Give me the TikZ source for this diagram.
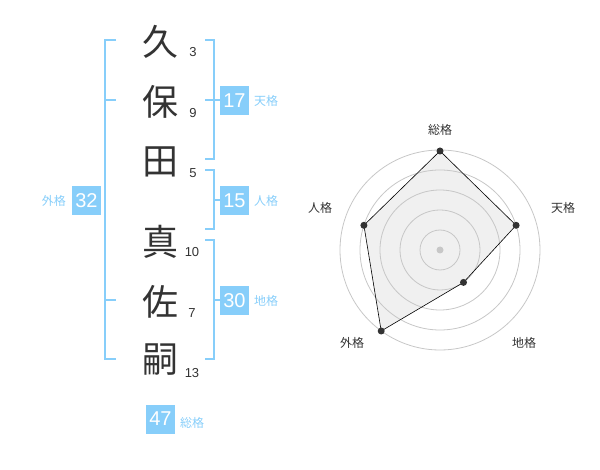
\documentclass[tikz,border=0pt]{standalone}
\usepackage{fontspec}
\setmainfont{Liberation Sans}
\newfontfamily\cjk{Noto Sans CJK JP}
\definecolor{sky}{HTML}{87CEFA}
\definecolor{ink}{HTML}{333333}
\begin{document}
\begin{tikzpicture}[x=1pt,y=-1pt,
  kanji/.style={font=\cjk\fontsize{36}{36}\selectfont, text=ink, inner sep=0},
  stroke/.style={font=\fontsize{13}{13}\selectfont, text=ink, inner sep=0},
  valbox/.style={fill=sky, text=white, minimum width=29pt, minimum height=29pt, inner sep=0, font=\fontsize{20}{20}\selectfont},
  kaku/.style={text=sky, font=\cjk\fontsize{12}{12}\selectfont, inner sep=0},
  brk/.style={draw=sky, line width=2pt},
  ring/.style={draw=black!22, line width=0.8pt},
  rlab/.style={text=ink, font=\cjk\fontsize{12}{12}\selectfont, inner sep=0},
  pt/.style={circle, fill=ink, inner sep=0, minimum size=7pt}]
\useasboundingbox (0,0) rectangle (600,470);
% characters
\node[kanji] (k1) at (160,42) {久};
\node[kanji] (k2) at (160,102) {保};
\node[kanji] (k3) at (160,162) {田};
\node[kanji] (k4) at (160,242) {真};
\node[kanji] (k5) at (160,302) {佐};
\node[kanji] (k6) at (160,360) {嗣};
\node[stroke] (n1) at (193,52) {3};
\node[stroke] (n2) at (193,113) {9};
\node[stroke] (n3) at (193,173) {5};
\node[stroke] (n4) at (192,252) {10};
\node[stroke] (n5) at (192,313) {7};
\node[stroke] (n6) at (192,373) {13};
% brackets
\draw[brk] (116,40) -- (105,40) -- (105,359) -- (116,359);
\draw[brk] (105,100) -- (116,100);
\draw[brk] (105,300) -- (116,300);
\draw[brk] (205,40) -- (214,40) -- (214,159) -- (205,159);
\draw[brk] (205,100) -- (220,100);
\draw[brk] (205,170) -- (214,170) -- (214,229) -- (205,229);
\draw[brk] (214,200) -- (220,200);
\draw[brk] (205,240) -- (214,240) -- (214,359) -- (205,359);
\draw[brk] (214,300) -- (220,300);
% value boxes
\node[valbox] (ten) at (234.5,100.5) {17};
\node[kaku, anchor=west] (tenl) at (254,101) {天格};
\node[valbox] (jin) at (234.5,200.5) {15};
\node[kaku, anchor=west] (jinl) at (254,201) {人格};
\node[valbox] (chi) at (234.5,300.5) {30};
\node[kaku, anchor=west] (chil) at (254,301) {地格};
\node[valbox] (gai) at (86.5,200.5) {32};
\node[kaku, anchor=east] (gail) at (66,201) {外格};
\node[valbox] (sou) at (160.5,419) {47};
\node[kaku, anchor=west] (soul) at (180,423) {総格};
% radar
\coordinate (c) at (440,250);
\path (c) ++(0,-99) coordinate (p1);
\path (c) ++(76.1,-24.7) coordinate (p2);
\path (c) ++(23.5,32.4) coordinate (p3);
\path (c) ++(-58.8,81) coordinate (p4);
\path (c) ++(-76.1,-24.7) coordinate (p5);
\fill[black!6] (p1) -- (p2) -- (p3) -- (p4) -- (p5) -- cycle;
\foreach \r in {20,40,60,80,100} \draw[ring] (c) circle (\r);
\fill[black!22] (c) circle (3.5);
\draw[draw=black, line width=0.6pt] (p1) -- (p2) -- (p3) -- (p4) -- (p5) -- cycle;
\foreach \p in {p1,p2,p3,p4,p5} \node[pt] at (\p) {};
\node[rlab] (l1) at (440,130) {総格};
\node[rlab] (l2) at (563,208) {天格};
\node[rlab] (l3) at (524,343) {地格};
\node[rlab] (l4) at (352,343) {外格};
\node[rlab] (l5) at (320,208) {人格};
\end{tikzpicture}
\end{document}
